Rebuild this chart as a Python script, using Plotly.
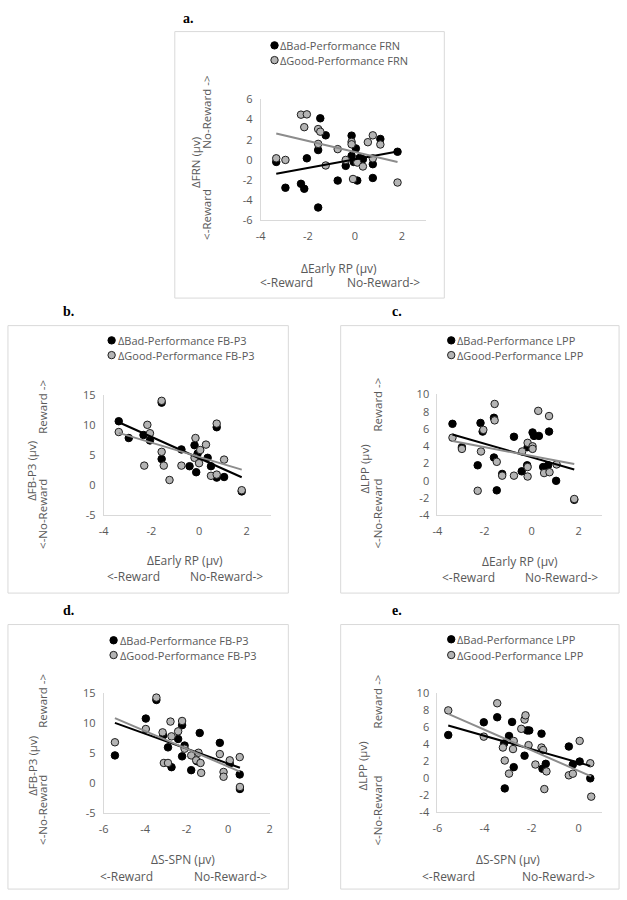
import numpy as np
import plotly.graph_objects as go

# ---------------- data ----------------
# Panel a: ΔEarly RP vs ΔFRN
a_bad_x = [-3.34, -2.95, -2.29, -2.15, -2.04, -1.47, -1.56, -1.24, -1.56, -0.73, -0.39, -0.14, -0.14, 0.04, -0.05, 0.10, 0.34, 0.20, 0.76, 0.76, 1.08, 1.81]
a_bad_y = [-0.20, -2.76, -2.37, -2.86, 0.16, 4.13, 0.98, 2.44, -4.72, -2.05, -0.59, 2.41, 0.40, 1.14, -0.20, -2.05, 0.07, 0.20, -1.79, -0.42, 2.08, 0.81]
a_good_x = [-3.34, -2.95, -2.29, -2.04, -2.15, -1.56, -1.47, -1.56, -1.24, -0.73, -0.39, -0.14, -0.14, -0.08, 0.10, 0.34, 0.55, 0.76, 1.08, 0.76, 1.81]
a_good_y = [0.16, 0.00, 4.49, 4.52, 3.25, 3.06, 2.80, 1.59, -0.55, 1.07, 0.00, 1.79, 1.55, -1.89, -0.26, -0.65, 1.76, 2.44, 1.53, 0.16, -2.24]

# Panel b: ΔEarly RP vs ΔFB-P3
b_bad_x = [-3.37, -2.95, -2.33, -2.06, -1.57, -1.57, -0.74, -0.19, -0.40, -0.12, -0.06, 0.36, 0.50, 0.74, 0.74, 1.05, 1.79]
b_bad_y = [10.7, 7.9, 8.4, 7.5, 13.8, 4.4, 6.0, 6.7, 3.2, 2.2, 5.3, 4.6, 3.2, 9.7, 1.3, 1.4, -1.0]
b_good_x = [-3.37, -2.17, -2.06, -1.57, -1.57, -2.30, -1.48, -1.24, -0.74, -0.15, 0.05, 0.29, -0.19, 0.00, 1.05, 0.50, 0.74, 0.74, 1.79]
b_good_y = [8.9, 10.1, 8.7, 14.1, 5.6, 3.3, 3.3, 0.9, 3.3, 7.9, 5.9, 6.8, 4.6, 3.7, 4.3, 1.6, 1.8, 10.3, -0.8]

# Panel c: ΔEarly RP vs ΔLPP
c_bad_x = [-3.36, -2.96, -2.29, -2.17, -2.08, -1.60, -1.60, -1.48, -1.25, -0.75, -0.42, -0.19, -0.17, 0.04, 0.10, 0.31, 0.49, 0.70, 0.74, 1.04, 1.81]
c_bad_y = [6.6, 3.9, 1.8, 6.7, 5.7, 7.3, 2.7, -1.1, 0.8, 5.1, 1.1, 1.8, 3.9, 5.6, 5.2, 5.2, 1.6, 1.8, 5.7, 0.0, -2.2]
c_good_x = [-3.36, -2.96, -2.29, -2.15, -2.05, -1.57, -1.57, -1.48, -1.25, -0.75, -0.40, -0.17, 0.04, 0.04, -0.17, -0.17, 0.28, 0.74, 0.53, 0.76, 1.06, 1.81]
c_good_y = [5.0, 3.7, -1.15, 3.4, 5.9, 8.9, 7.0, 2.2, 0.6, 0.6, 3.4, 4.4, 4.0, 3.7, 1.6, 0.5, 8.1, 7.5, 0.9, 1.0, 1.9, -2.1]

# Panel d: ΔS-SPN vs ΔFB-P3
d_bad_x = [-5.46, -3.97, -3.46, -3.13, -2.90, -2.73, -2.41, -2.22, -2.22, -2.10, -1.78, -1.37, -1.50, -0.40, 0.08, 0.56, 0.57]
d_bad_y = [4.66, 10.8, 13.9, 8.0, 6.0, 2.7, 7.4, 4.5, 9.7, 6.3, 2.2, 8.4, 3.7, 6.75, 3.3, 1.48, -0.94]
d_good_x = [-5.46, -3.97, -3.46, -3.16, -3.10, -2.90, -2.78, -2.73, -2.41, -2.22, -2.10, -1.78, -1.54, -1.43, -1.33, -1.30, -0.40, -0.22, -0.22, 0.08, 0.56, 0.57]
d_good_y = [6.85, 9.06, 14.3, 8.5, 3.4, 3.4, 10.3, 7.84, 8.67, 10.4, 5.77, 4.66, 3.84, 5.1, 3.4, 1.75, 4.88, 1.9, 1.1, 3.84, 4.38, -0.6]

# Panel e: ΔS-SPN vs ΔLPP
e_bad_x = [-5.54, -4.03, -3.46, -3.14, -2.96, -2.83, -2.76, -3.17, -2.30, -2.19, -2.10, -1.58, -1.54, -1.40, -0.42, -0.25, 0.04, 0.49]
e_bad_y = [5.1, 6.6, 7.19, -1.18, 4.99, 6.64, 1.32, 4.1, 2.67, 5.64, 5.64, 5.26, 1.13, 1.71, 3.75, 1.63, 1.98, 0.0]
e_good_x = [-5.54, -4.03, -3.46, -3.22, -3.14, -2.96, -2.79, -2.76, -2.44, -2.30, -2.26, -2.13, -1.84, -1.58, -1.51, -1.46, -1.37, -0.42, -0.25, 0.04, 0.49, 0.53]
e_good_y = [8.0, 4.91, 8.84, 3.63, 2.1, 0.56, 3.45, 4.4, 5.83, 6.92, 7.42, 3.91, 1.63, 3.63, 3.33, -1.26, 0.82, 0.36, 0.55, 4.41, 1.78, -2.15]

# tick values / labels
x_ticks_rp = [-4, -2, 0, 2]
x_ticks_spn = [-6, -4, -2, 0, 2]
x_ticks_spn_e = [-6, -4, -2, 0]
y_ticks_frn = [-6, -4, -2, 0, 2, 4, 6]
y_ticks_p3 = [-5, 0, 5, 10, 15]
y_ticks_lpp = [-4, -2, 0, 2, 4, 6, 8, 10]

panel_letters = ["a.", "b.", "c.", "d.", "e."]
bad_names = ["ΔBad-Performance FRN", "ΔBad-Performance FB-P3", "ΔBad-Performance LPP",
             "ΔBad-Performance FB-P3", "ΔBad-Performance LPP"]
good_names = ["ΔGood-Performance FRN", "ΔGood-Performance FB-P3", "ΔGood-Performance LPP",
              "ΔGood-Performance FB-P3", "ΔGood-Performance LPP"]
y_titles = ["ΔFRN (µv)", "ΔFB-P3 (µv)", "ΔLPP (µv)", "ΔFB-P3 (µv)", "ΔLPP (µv)"]
y_top_labels = ["No-Reward ->", "Reward ->", "Reward ->", "Reward ->", "Reward ->"]
y_bottom_labels = ["<-Reward", "<-No-Reward", "<-No-Reward", "<-No-Reward", "<-No-Reward"]
x_titles = ["ΔEarly RP (µv)", "ΔEarly RP (µv)", "ΔEarly RP (µv)", "ΔS-SPN (µv)", "ΔS-SPN (µv)"]
x_left_label = "<-Reward"
x_right_label = "No-Reward->"

def lab(v):
    return [str(t) for t in v]

# ---------------- layout (pixel geometry) ----------------
W, H = 627, 900
def fx(p): return p / W
def fy(p): return 1 - p / H

TXT = "#595959"
FONT = "Open Sans"
FS = 11

geo = [
    dict(px=(259, 426), py=(93, 216), xr=(-4, 3), yr=(-6, 6), xt=x_ticks_rp, yt=y_ticks_frn,
         frame=(172, 24, 445, 295), letter=(186, 11), yt_x=193, yt_y=157, ya_x=204, ytop_y=106, ybot_y=210,
         xt_y=265, xtc=338, xl=285, xrx=383, xlr_y=279, leg=(273, 38, 53)),
    dict(px=(100, 269), py=(394, 516), xr=(-4, 3), yr=(-5, 15), xt=x_ticks_rp, yt=y_ticks_p3,
         frame=(3, 323, 287, 595), letter=(64, 309), yt_x=26, yt_y=471, ya_x=38, ytop_y=406, ybot_y=515,
         xt_y=562, xtc=182, xl=130, xrx=224, xlr_y=578, leg=(108, 338, 353)),
    dict(px=(438, 605), py=(393, 516), xr=(-4, 3), yr=(-4, 10), xt=x_ticks_rp, yt=y_ticks_lpp,
         frame=(340, 323, 622, 595), letter=(397, 309), yt_x=364, yt_y=469, ya_x=377, ytop_y=403, ybot_y=514,
         xt_y=563, xtc=522, xl=469, xrx=564, xlr_y=579, leg=(452, 338, 353)),
    dict(px=(100, 268), py=(697, 819), xr=(-6, 2), yr=(-5, 15), xt=x_ticks_spn, yt=y_ticks_p3,
         frame=(3, 627, 287, 896), letter=(64, 613), yt_x=27, yt_y=771, ya_x=38, ytop_y=705, ybot_y=816,
         xt_y=866, xtc=180, xl=123, xrx=228, xlr_y=883, leg=(110, 643, 658)),
    dict(px=(438, 605), py=(697, 818), xr=(-6, 1), yr=(-4, 10), xt=x_ticks_spn_e, yt=y_ticks_lpp,
         frame=(340, 627, 622, 896), letter=(397, 613), yt_x=362, yt_y=771, ya_x=377, ytop_y=705, ybot_y=816,
         xt_y=866, xtc=510, xl=449, xrx=561, xlr_y=883, leg=(452, 642, 658)),
]

series = [
    (a_bad_x, a_bad_y, a_good_x, a_good_y),
    (b_bad_x, b_bad_y, b_good_x, b_good_y),
    (c_bad_x, c_bad_y, c_good_x, c_good_y),
    (d_bad_x, d_bad_y, d_good_x, d_good_y),
    (e_bad_x, e_bad_y, e_good_x, e_good_y),
]

BLACK_FILL, BLACK_LINE = "#000000", "#000000"
GRAY_FILL, GRAY_LINE = "#b4b4b4", "#1e1e1e"
GRAY_TREND = "#8c8c8c"
MS = 7.5

fig = go.Figure()
shapes, annotations = [], []
layout_axes = {}

for i, (g, s) in enumerate(zip(geo, series)):
    n = "" if i == 0 else str(i + 1)
    xa, ya = "x" + n, "y" + n
    bx, by, gx, gy = s
    fig.add_trace(go.Scatter(x=bx, y=by, mode="markers", xaxis=xa, yaxis=ya, name=bad_names[i],
                             showlegend=False, cliponaxis=False,
                             marker=dict(size=MS, color=BLACK_FILL, line=dict(color=BLACK_LINE, width=1))))
    fig.add_trace(go.Scatter(x=gx, y=gy, mode="markers", xaxis=xa, yaxis=ya, name=good_names[i],
                             showlegend=False, cliponaxis=False,
                             marker=dict(size=MS, color=GRAY_FILL, line=dict(color=GRAY_LINE, width=1))))
    for xs, ys, col in ((bx, by, "#000000"), (gx, gy, GRAY_TREND)):
        k, b0 = np.polyfit(xs, ys, 1)
        xe = np.array([min(xs), max(xs)])
        fig.add_trace(go.Scatter(x=xe, y=k * xe + b0, mode="lines", xaxis=xa, yaxis=ya,
                                 showlegend=False, hoverinfo="skip",
                                 line=dict(color=col, width=2)))

    axcommon = dict(showgrid=False, zeroline=False, showline=True, linecolor="#d9d9d9", linewidth=1,
                    ticks="", tickfont=dict(family=FONT, size=FS, color=TXT), fixedrange=True)
    layout_axes["xaxis" + n] = dict(axcommon, domain=[fx(g["px"][0]), fx(g["px"][1])], range=list(g["xr"]),
                                    anchor=ya, tickvals=g["xt"], ticktext=lab(g["xt"]), ticklabelstandoff=5)
    layout_axes["yaxis" + n] = dict(axcommon, domain=[fy(g["py"][1]), fy(g["py"][0])], range=list(g["yr"]),
                                    anchor=xa, tickvals=g["yt"], ticktext=lab(g["yt"]), ticklabelstandoff=5)

    l, t, r, b = g["frame"]
    shapes.append(dict(type="rect", xref="paper", yref="paper", x0=fx(l), x1=fx(r), y0=fy(b), y1=fy(t),
                       line=dict(color="#d9d9d9", width=1), fillcolor="rgba(0,0,0,0)", layer="below"))
    annotations.append(dict(text="<b>" + panel_letters[i] + "</b>", x=fx(g["letter"][0]), y=fy(g["letter"][1]),
                            xref="paper", yref="paper", showarrow=False, xanchor="center", yanchor="middle",
                            font=dict(family="Liberation Serif", size=14, color="#000000")))

    def ann(text, x, y, angle=0, anchor="center", size=FS + 1):
        annotations.append(dict(text=text, x=fx(x), y=fy(y), xref="paper", yref="paper", showarrow=False,
                                xanchor=anchor, yanchor="middle", textangle=angle, borderpad=0,
                                font=dict(family=FONT, size=size, color=TXT)))
    ann(y_titles[i], g["yt_x"], g["yt_y"], -90, size=FS + 0.5)
    ann(y_top_labels[i], g["ya_x"], g["ytop_y"], -90, size=FS + 0.5)
    ann(y_bottom_labels[i], g["ya_x"], g["ybot_y"], -90, size=FS + 0.5)
    ann(x_titles[i], g["xtc"], g["xt_y"])
    ann(x_left_label, g["xl"], g["xlr_y"])
    ann(x_right_label, g["xrx"], g["xlr_y"])
    lx, ly1, ly2 = g["leg"]
    for yy, fill, lc, name in ((ly1, BLACK_FILL, BLACK_LINE, bad_names[i]), (ly2, GRAY_FILL, GRAY_LINE, good_names[i])):
        shapes.append(dict(type="circle", xref="paper", yref="paper", xsizemode="pixel", ysizemode="pixel",
                           xanchor=fx(lx), yanchor=fy(yy), x0=-3.7, x1=3.7, y0=-3.7, y1=3.7,
                           fillcolor=fill, line=dict(color=lc, width=1)))
        ann(name, lx + 5, yy, anchor="left", size=FS)

fig.update_layout(width=W, height=H, margin=dict(l=0, r=0, t=0, b=0), paper_bgcolor="white",
                  plot_bgcolor="white", showlegend=False, shapes=shapes, annotations=annotations,
                  **layout_axes)

fig.write_html("out.html", config={"displayModeBar": False},
               post_script="document.body.style.margin='0px';document.body.style.overflow='hidden';")
